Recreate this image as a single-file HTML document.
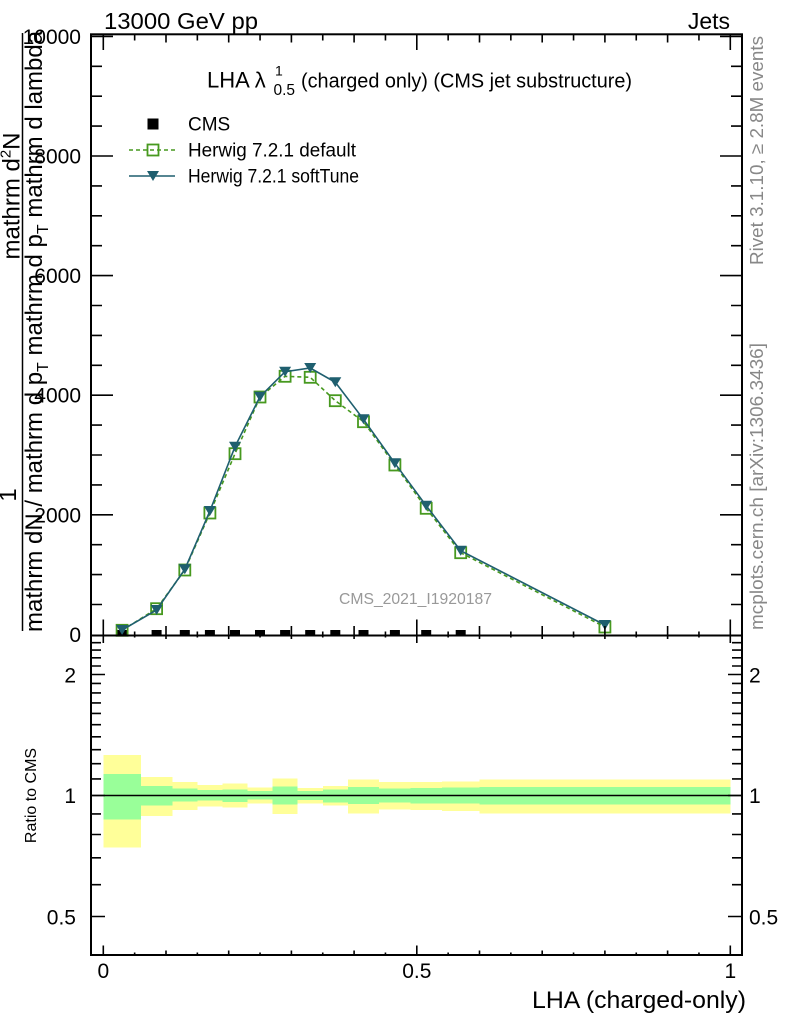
<!DOCTYPE html>
<html><head><meta charset="utf-8"><style>
html,body{margin:0;padding:0;background:#fff;}
svg{display:block;font-family:"Liberation Sans",Arial,sans-serif;}
</style></head><body>
<svg width="786" height="1024" viewBox="0 0 786 1024" xmlns="http://www.w3.org/2000/svg">
<rect width="786" height="1024" fill="#fff"/>

<!-- Ratio bands -->
<g shape-rendering="crispEdges">
<g fill="#ffff99">
<rect x="103.3" y="755" width="37.6" height="92.7"/>
<rect x="140.9" y="777" width="31.4" height="39"/>
<rect x="172.3" y="782" width="25.1" height="28"/>
<rect x="197.4" y="785" width="25" height="21.7"/>
<rect x="222.4" y="783.7" width="25.1" height="23.6"/>
<rect x="247.5" y="787.3" width="25.1" height="16.4"/>
<rect x="272.6" y="778.3" width="25.1" height="35.7"/>
<rect x="297.7" y="788" width="25.1" height="15.3"/>
<rect x="322.8" y="786" width="25" height="19.7"/>
<rect x="347.8" y="779.3" width="31.4" height="34"/>
<rect x="379.2" y="782" width="31.3" height="27.7"/>
<rect x="410.5" y="782" width="31.4" height="28"/>
<rect x="441.9" y="781.3" width="37.6" height="29.7"/>
<rect x="479.5" y="779.3" width="250.8" height="34.4"/>
</g>
<g fill="#99ff99">
<rect x="103.3" y="774" width="37.6" height="45.7"/>
<rect x="140.9" y="786" width="31.4" height="19.7"/>
<rect x="172.3" y="788.7" width="25.1" height="13"/>
<rect x="197.4" y="790" width="25" height="10.7"/>
<rect x="222.4" y="789.3" width="25.1" height="12.7"/>
<rect x="247.5" y="791" width="25.1" height="8.3"/>
<rect x="272.6" y="786.3" width="25.1" height="18"/>
<rect x="297.7" y="791" width="25.1" height="9"/>
<rect x="322.8" y="789.7" width="25" height="12.6"/>
<rect x="347.8" y="787" width="31.4" height="17"/>
<rect x="379.2" y="788.3" width="31.3" height="14"/>
<rect x="410.5" y="788" width="31.4" height="15.3"/>
<rect x="441.9" y="787.7" width="37.6" height="15.6"/>
<rect x="479.5" y="787" width="250.8" height="17.3"/>
</g>
</g>
<line x1="91" y1="795.5" x2="742" y2="795.5" stroke="#000" stroke-width="1.6"/>

<!-- CMS data markers -->
<g fill="#000">
<rect x="117.1" y="630" width="10" height="5.5"/>
<rect x="151.6" y="630" width="10" height="5.5"/>
<rect x="179.8" y="630" width="10" height="5.5"/>
<rect x="204.9" y="630" width="10" height="5.5"/>
<rect x="230" y="630" width="10" height="5.5"/>
<rect x="255" y="630" width="10" height="5.5"/>
<rect x="280.1" y="630" width="10" height="5.5"/>
<rect x="305.2" y="630" width="10" height="5.5"/>
<rect x="330.3" y="630" width="10" height="5.5"/>
<rect x="358.5" y="630" width="10" height="5.5"/>
<rect x="389.9" y="630" width="10" height="5.5"/>
<rect x="421.2" y="630" width="10" height="5.5"/>
<rect x="455.7" y="630" width="10" height="5.5"/>
</g>

<!-- Herwig default (green dashed, open squares) -->
<polyline fill="none" stroke="#47991f" stroke-width="1.6" stroke-dasharray="4,3"
 points="122.1,630.3 156.6,608.7 184.8,570 209.9,513 235,453.7 260,397 285.1,376.3 310.2,377.3 335.3,400.7 363.5,421.7 394.9,465 426.2,508.3 460.7,552.7 604.9,627"/>
<g fill="none" stroke="#47991f" stroke-width="1.8">
<rect x="116.6" y="624.8" width="11" height="11"/>
<rect x="151.1" y="603.2" width="11" height="11"/>
<rect x="179.3" y="564.5" width="11" height="11"/>
<rect x="204.4" y="507.5" width="11" height="11"/>
<rect x="229.5" y="448.2" width="11" height="11"/>
<rect x="254.5" y="391.5" width="11" height="11"/>
<rect x="279.6" y="370.8" width="11" height="11"/>
<rect x="304.7" y="371.8" width="11" height="11"/>
<rect x="329.8" y="395.2" width="11" height="11"/>
<rect x="358" y="416.2" width="11" height="11"/>
<rect x="389.4" y="459.5" width="11" height="11"/>
<rect x="420.7" y="502.8" width="11" height="11"/>
<rect x="455.2" y="547.2" width="11" height="11"/>
<rect x="599.4" y="621.5" width="11" height="11"/>
</g>

<!-- Herwig softTune (teal solid, down triangles) -->
<polyline fill="none" stroke="#1f5f6f" stroke-width="1.6"
 points="122.1,630 156.6,610 184.8,569.3 209.9,511 235,446.7 260,396.7 285.1,371.7 310.2,368 335.3,382.3 363.5,419.3 394.9,463.3 426.2,505.7 460.7,550.7 604.9,625"/>
<g fill="#1f5f6f">
<path d="M116.1 625h12l-6 10z"/>
<path d="M150.6 605h12l-6 10z"/>
<path d="M178.8 564.3h12l-6 10z"/>
<path d="M203.9 506h12l-6 10z"/>
<path d="M229 441.7h12l-6 10z"/>
<path d="M254 391.7h12l-6 10z"/>
<path d="M279.1 366.7h12l-6 10z"/>
<path d="M304.2 363h12l-6 10z"/>
<path d="M329.3 377.3h12l-6 10z"/>
<path d="M357.5 414.3h12l-6 10z"/>
<path d="M388.9 458.3h12l-6 10z"/>
<path d="M420.2 500.7h12l-6 10z"/>
<path d="M454.7 545.7h12l-6 10z"/>
<path d="M598.9 620h12l-6 10z"/>
</g>

<!-- Frames -->
<g fill="none" stroke="#000" stroke-width="2">
<rect x="91" y="34.3" width="651" height="601.2"/>
<rect x="91" y="635.5" width="651" height="319.5"/>
</g>

<!-- Ticks -->
<g stroke="#000" stroke-width="1.6" fill="none">
<!-- main bottom x ticks (up) -->
<path d="M103.3 635.5V619.5M416.8 635.5V619.5M730.3 635.5V619.5
M166 635.5V626M228.7 635.5V626M291.4 635.5V626M354.1 635.5V626M479.5 635.5V626M542.2 635.5V626M604.9 635.5V626M667.6 635.5V626
M134.65 635.5V631.5M197.35 635.5V631.5M260.05 635.5V631.5M322.75 635.5V631.5M385.45 635.5V631.5M448.15 635.5V631.5M510.85 635.5V631.5M573.55 635.5V631.5M636.25 635.5V631.5M698.95 635.5V631.5"/>
<!-- main top x ticks (down) -->
<path d="M103.3 34.3V50M416.8 34.3V50M730.3 34.3V50
M166 34.3V42.5M228.7 34.3V42.5M291.4 34.3V42.5M354.1 34.3V42.5M479.5 34.3V42.5M542.2 34.3V42.5M604.9 34.3V42.5M667.6 34.3V42.5
M134.65 34.3V40.5M197.35 34.3V40.5M260.05 34.3V40.5M322.75 34.3V40.5M385.45 34.3V40.5M448.15 34.3V40.5M510.85 34.3V40.5M573.55 34.3V40.5M636.25 34.3V40.5M698.95 34.3V40.5"/>
<!-- ratio top x ticks (down) -->
<path d="M103.3 635.5V643M416.8 635.5V643M730.3 635.5V643
M166 635.5V639M228.7 635.5V639M291.4 635.5V639M354.1 635.5V639M479.5 635.5V639M542.2 635.5V639M604.9 635.5V639M667.6 635.5V639
M134.65 635.5V637.5M197.35 635.5V637.5M260.05 635.5V637.5M322.75 635.5V637.5M385.45 635.5V637.5M448.15 635.5V637.5M510.85 635.5V637.5M573.55 635.5V637.5M636.25 635.5V637.5M698.95 635.5V637.5"/>
<!-- ratio bottom x ticks (up) -->
<path d="M103.3 955V945.5M416.8 955V945.5M730.3 955V945.5
M166 955V950.5M228.7 955V950.5M291.4 955V950.5M354.1 955V950.5M479.5 955V950.5M542.2 955V950.5M604.9 955V950.5M667.6 955V950.5
M134.65 955V952.5M197.35 955V952.5M260.05 955V952.5M322.75 955V952.5M385.45 955V952.5M448.15 955V952.5M510.85 955V952.5M573.55 955V952.5M636.25 955V952.5M698.95 955V952.5"/>
<!-- main y ticks left -->
<path d="M91 514.8H113M91 395.2H113M91 275.6H113M91 156H113M91 36.4H113
M91 604.5H102M91 574.6H102M91 544.7H102M91 484.9H102M91 455H102M91 425.1H102M91 365.3H102M91 335.4H102M91 305.5H102M91 245.7H102M91 215.8H102M91 185.9H102M91 126.1H102M91 96.2H102M91 66.3H102"/>
<!-- main y ticks right -->
<path d="M742 514.8H720M742 395.2H720M742 275.6H720M742 156H720M742 36.4H720
M742 604.5H731M742 574.6H731M742 544.7H731M742 484.9H731M742 455H731M742 425.1H731M742 365.3H731M742 335.4H731M742 305.5H731M742 245.7H731M742 215.8H731M742 185.9H731M742 126.1H731M742 96.2H731M742 66.3H731"/>
<!-- ratio y ticks left -->
<path d="M91 916.5H105M91 795.5H105M91 674.5H105
M91 884.7H101M91 857.8H101M91 834.5H101M91 813.9H101M91 778.9H101M91 763.7H101M91 749.7H101M91 736.8H101M91 724.7H101M91 713.4H101M91 702.9H101M91 692.9H101M91 683.4H101M91 666H101M91 657.8H101M91 650.1H101M91 642.7H101"/>
<!-- ratio y ticks right -->
<path d="M742 916.5H728M742 795.5H728M742 674.5H728
M742 884.7H732M742 857.8H732M742 834.5H732M742 813.9H732M742 778.9H732M742 763.7H732M742 749.7H732M742 736.8H732M742 724.7H732M742 713.4H732M742 702.9H732M742 692.9H732M742 683.4H732M742 666H732M742 657.8H732M742 650.1H732M742 642.7H732"/>
</g>

<!-- Top labels -->
<text x="104" y="29" font-size="23" textLength="154" lengthAdjust="spacingAndGlyphs">13000 GeV pp</text>
<text x="730" y="29" font-size="23" text-anchor="end">Jets</text>

<!-- Title -->
<text x="207" y="87.5" font-size="22">LHA λ</text>
<text x="275" y="75.5" font-size="14">1</text>
<text x="273.5" y="95" font-size="15.5">0.5</text>
<text x="301" y="87.5" font-size="20" textLength="331" lengthAdjust="spacingAndGlyphs">(charged only) (CMS jet substructure)</text>

<!-- Legend -->
<rect x="147.5" y="118.5" width="11" height="11" fill="#000"/>
<text x="188" y="130.5" font-size="19">CMS</text>
<line x1="129" y1="150" x2="175" y2="150" stroke="#47991f" stroke-width="1.6" stroke-dasharray="4,3"/>
<rect x="147.5" y="144.5" width="11" height="11" fill="none" stroke="#47991f" stroke-width="1.8"/>
<text x="188" y="156.5" font-size="19" textLength="168" lengthAdjust="spacingAndGlyphs">Herwig 7.2.1 default</text>
<line x1="129" y1="176" x2="175" y2="176" stroke="#1f5f6f" stroke-width="1.6"/>
<path d="M147 171h12l-6 10z" fill="#1f5f6f"/>
<text x="188" y="182.5" font-size="19" textLength="171" lengthAdjust="spacingAndGlyphs">Herwig 7.2.1 softTune</text>

<!-- Watermark -->
<text x="339" y="604" font-size="16" fill="#999" textLength="153" lengthAdjust="spacingAndGlyphs">CMS_2021_I1920187</text>

<!-- Main y tick labels -->
<g font-size="21" text-anchor="end">
<text x="81" y="44">10000</text>
<text x="81" y="163.5">8000</text>
<text x="81" y="283">6000</text>
<text x="81" y="402.7">4000</text>
<text x="81" y="522.3">2000</text>
<text x="81" y="642">0</text>
</g>

<!-- Y axis label (main) -->
<g font-size="24">
<text transform="translate(19.5,196) rotate(-90)" text-anchor="middle">mathrm d<tspan font-size="15" dy="-9">2</tspan><tspan dy="9">N</tspan></text>
<text transform="translate(16,495) rotate(-90)" text-anchor="middle">1</text>
<text transform="translate(42,632) rotate(-90)">mathrm dN / mathrm d p<tspan font-size="16" dy="6">T</tspan><tspan dy="-6"> mathrm d p</tspan><tspan font-size="16" dy="6">T</tspan><tspan dy="-6"> mathrm d lambda</tspan></text>
</g>
<line x1="22.5" y1="33" x2="22.5" y2="631" stroke="#000" stroke-width="1.5"/>

<!-- Right side texts -->
<text transform="translate(763,265) rotate(-90)" font-size="18.5" fill="#888" textLength="229" lengthAdjust="spacingAndGlyphs">Rivet 3.1.10, ≥ 2.8M events</text>
<text transform="translate(763,630) rotate(-90)" font-size="18.5" fill="#888" textLength="287" lengthAdjust="spacingAndGlyphs">mcplots.cern.ch [arXiv:1306.3436]</text>

<!-- Ratio labels -->
<text transform="translate(36,795.5) rotate(-90)" font-size="16" text-anchor="middle">Ratio to CMS</text>
<g font-size="21" text-anchor="end">
<text x="76" y="682.5">2</text>
<text x="76" y="803">1</text>
<text x="76" y="924.5">0.5</text>
</g>
<g font-size="21">
<text x="749" y="682.5">2</text>
<text x="749" y="803">1</text>
<text x="749" y="924.5">0.5</text>
</g>

<!-- X tick labels -->
<g font-size="21" text-anchor="middle">
<text x="103.3" y="978">0</text>
<text x="416.8" y="978">0.5</text>
<text x="730.3" y="978">1</text>
</g>
<text x="532" y="1008" font-size="24" textLength="214" lengthAdjust="spacingAndGlyphs">LHA (charged-only)</text>
</svg>
</body></html>
